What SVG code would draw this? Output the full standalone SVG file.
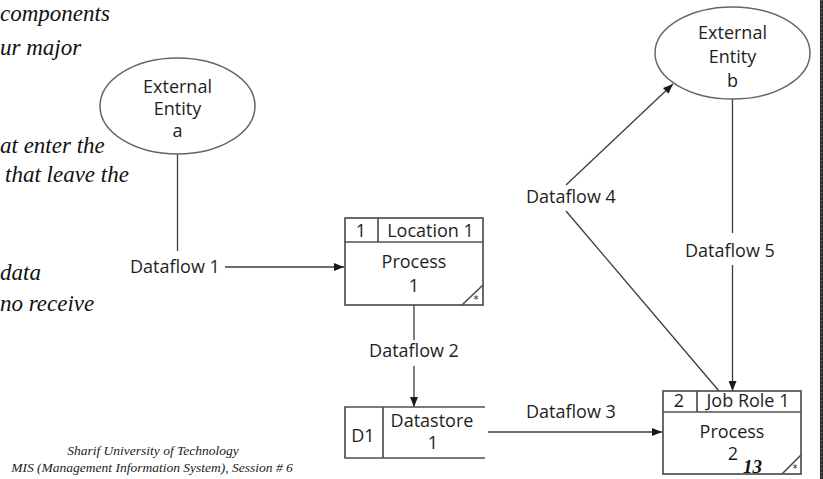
<svg xmlns="http://www.w3.org/2000/svg" width="823" height="479" viewBox="0 0 823 479">
  <defs>
    <marker id="arrow" markerUnits="userSpaceOnUse" markerWidth="10" markerHeight="8" refX="10" refY="4" orient="auto">
      <path d="M0,0 L10,4 L0,8 z" fill="#1a1a1a"/>
    </marker>
    <style>
      .lbl { font-family: "Open Sans", "Noto Sans", sans-serif; font-size: 18px; fill: #1e1e1e; }
      .mid { text-anchor: middle; }
      .note { font-family: "Liberation Serif", "Times New Roman", serif; font-style: italic; font-size: 23px; fill: #111; }
      .foot { font-family: "Liberation Serif", "Times New Roman", serif; font-style: italic; font-size: 13.5px; fill: #222; text-anchor: middle; }
      .ent { fill: #fff; stroke: #666; stroke-width: 1.5; }
      .box { fill: #fff; stroke: #505050; stroke-width: 1.7; }
      .rule { fill: none; stroke: #505050; stroke-width: 1.7; }
      .flow { fill: none; stroke: #3c3c3c; stroke-width: 1.3; }
      .star { font-family: "DejaVu Sans", sans-serif; font-size: 10px; fill: #222; text-anchor: middle; }
    </style>
  </defs>

  <rect x="0" y="0" width="823" height="479" fill="#fff"/>

  <!-- slide body text, partly hidden behind the figure -->
  <g id="slide-text">
    <text class="note" x="0" y="21">components</text>
    <text class="note" x="0" y="55">ur major</text>
    <text class="note" x="0" y="153">at enter the</text>
    <text class="note" x="5" y="182">that leave the</text>
    <text class="note" x="0" y="280">data</text>
    <text class="note" x="0" y="311">no receive</text>
  </g>

  <!-- footer -->
  <g id="footer">
    <text class="foot" x="153" y="455">Sharif University of Technology</text>
    <text class="foot" x="152" y="472">MIS (Management Information System), Session # 6</text>
  </g>

  <!-- connectors -->
  <g id="connectors">
    <!-- Dataflow 1 -->
    <line class="flow" x1="177.5" y1="154" x2="177.5" y2="251"/>
    <line class="flow" x1="225" y1="267" x2="344" y2="267" marker-end="url(#arrow)"/>
    <text class="lbl" x="130" y="273">Dataflow 1</text>
    <!-- Dataflow 2 -->
    <line class="flow" x1="414" y1="305" x2="414" y2="340"/>
    <line class="flow" x1="414" y1="366" x2="414" y2="407" marker-end="url(#arrow)"/>
    <text class="lbl mid" x="414" y="357">Dataflow 2</text>
    <!-- Dataflow 3 -->
    <line class="flow" x1="488" y1="432" x2="662" y2="432" marker-end="url(#arrow)"/>
    <text class="lbl" x="526" y="418">Dataflow 3</text>
    <!-- Dataflow 4 -->
    <line class="flow" x1="566" y1="185" x2="673" y2="84" marker-end="url(#arrow)"/>
    <line class="flow" x1="566" y1="211" x2="719" y2="391"/>
    <text class="lbl" x="526" y="203">Dataflow 4</text>
    <!-- Dataflow 5 -->
    <line class="flow" x1="732.5" y1="99" x2="732.5" y2="233"/>
    <line class="flow" x1="732.5" y1="265" x2="732.5" y2="391" marker-end="url(#arrow)"/>
    <text class="lbl" x="685" y="257">Dataflow 5</text>
  </g>

  <!-- external entity a -->
  <g id="entity-a">
    <ellipse class="ent" cx="177.5" cy="106" rx="77.5" ry="48"/>
    <text class="lbl mid" x="177.5" y="93">External</text>
    <text class="lbl mid" x="177.5" y="115">Entity</text>
    <text class="lbl mid" x="177.5" y="137">a</text>
  </g>

  <!-- external entity b -->
  <g id="entity-b">
    <ellipse class="ent" cx="732.5" cy="53" rx="77.5" ry="46"/>
    <text class="lbl mid" x="732.5" y="39">External</text>
    <text class="lbl mid" x="732.5" y="63">Entity</text>
    <text class="lbl mid" x="732.5" y="87">b</text>
  </g>

  <!-- process 1 -->
  <g id="process-1">
    <rect class="box" x="345" y="218" width="138" height="87"/>
    <line class="rule" x1="345" y1="242" x2="483" y2="242"/>
    <line class="rule" x1="378" y1="218" x2="378" y2="242"/>
    <line class="rule" x1="462" y1="305" x2="483" y2="285"/>
    <text class="lbl mid" x="361" y="237">1</text>
    <text class="lbl mid" x="430.5" y="237">Location 1</text>
    <text class="lbl mid" x="414" y="268">Process</text>
    <text class="lbl mid" x="414" y="292">1</text>
    <text class="star" x="476" y="303">*</text>
  </g>

  <!-- datastore D1 -->
  <g id="datastore-1">
    <path class="rule" d="M485,407 H345 V458 H485"/>
    <line class="rule" x1="383" y1="407" x2="383" y2="458"/>
    <text class="lbl mid" x="363" y="442">D1</text>
    <text class="lbl mid" x="432" y="427">Datastore</text>
    <text class="lbl mid" x="433" y="449">1</text>
  </g>

  <!-- process 2 -->
  <g id="process-2">
    <rect class="box" x="663" y="391" width="138" height="83"/>
    <line class="rule" x1="663" y1="412" x2="801" y2="412"/>
    <line class="rule" x1="697" y1="391" x2="697" y2="412"/>
    <line class="rule" x1="782" y1="474" x2="801" y2="455"/>
    <text class="lbl mid" x="679" y="407">2</text>
    <text class="lbl mid" x="748" y="407">Job Role 1</text>
    <text class="lbl mid" x="732" y="438">Process</text>
    <text class="lbl mid" x="733" y="460">2</text>
    <text class="star" x="795" y="472">*</text>
  </g>

  <!-- slide number -->
  <text x="743" y="473" font-family="Liberation Serif, Times New Roman, serif" font-style="italic" font-weight="bold" font-size="19" fill="#111">13</text>

  <!-- dark strip along the right edge -->
  <rect x="820" y="0" width="3" height="479" fill="#2b2b2b"/>
  <line x1="821.5" y1="0" x2="821.5" y2="479" stroke="#8a8a8a" stroke-width="1" stroke-dasharray="1 3"/>
</svg>
